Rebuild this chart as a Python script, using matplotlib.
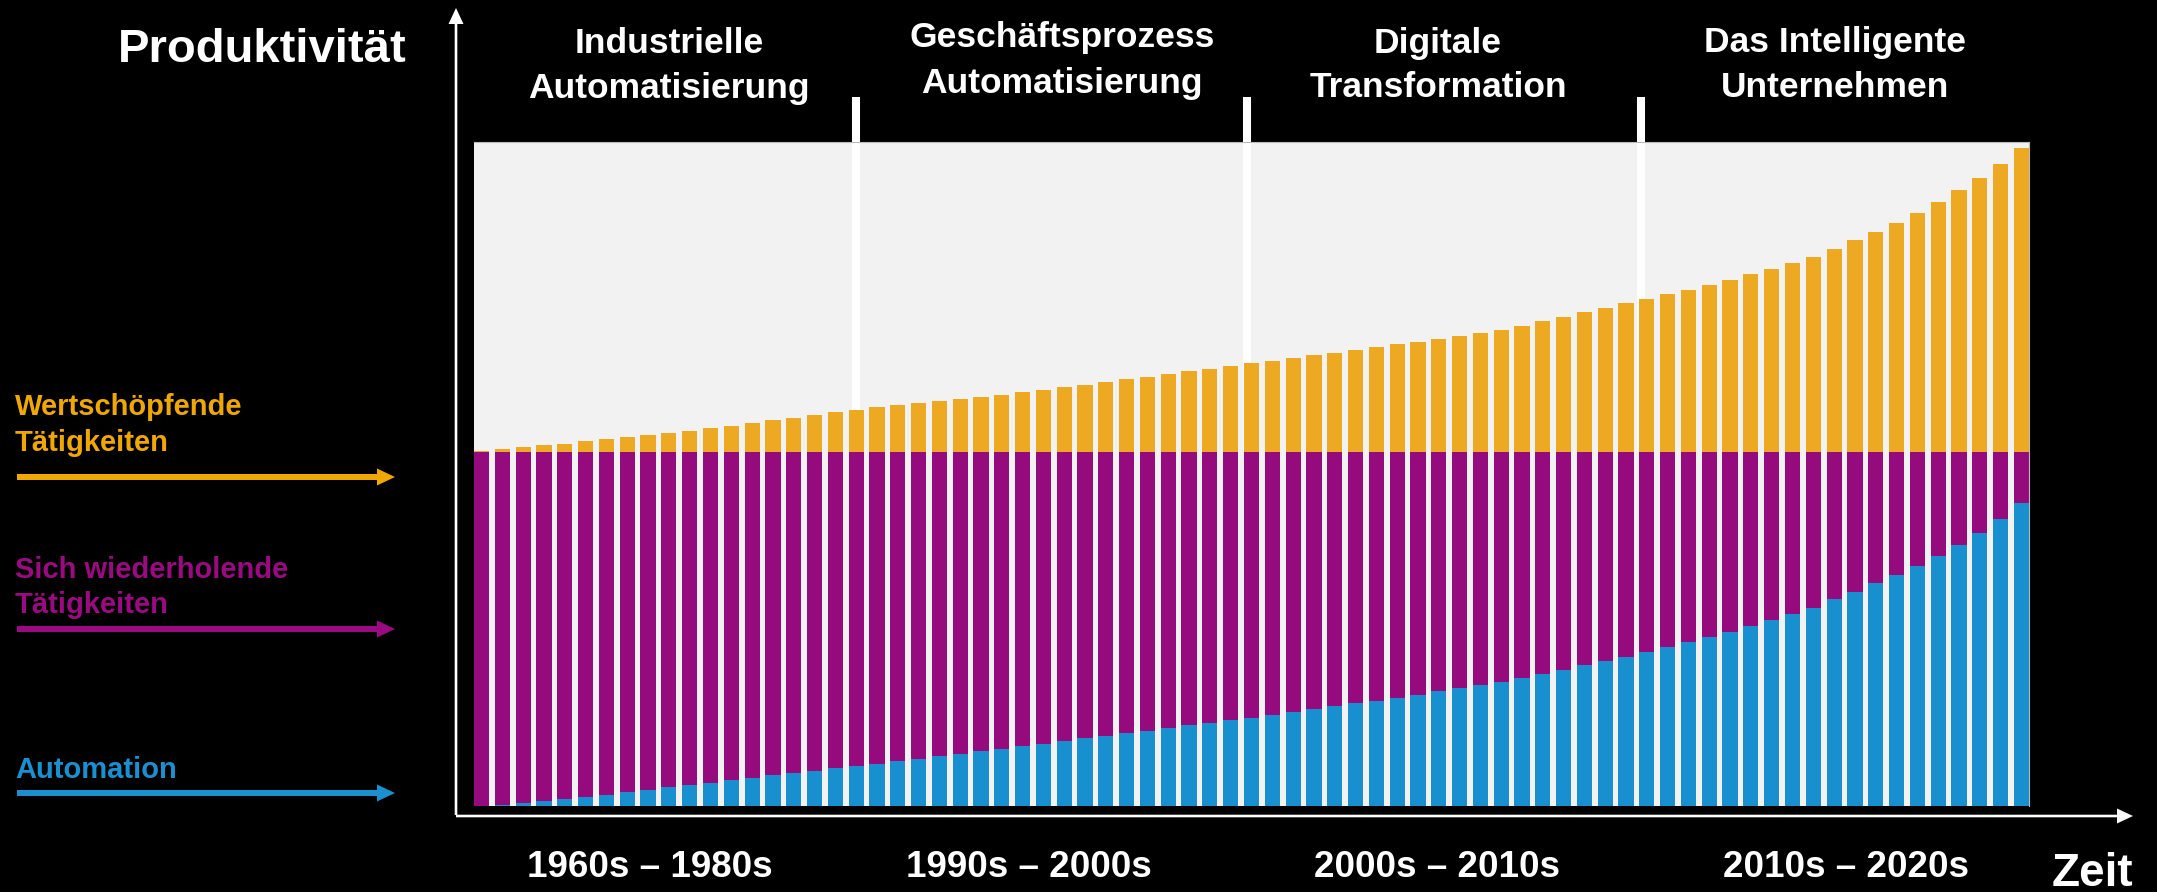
import matplotlib
matplotlib.use("Agg")
import matplotlib.pyplot as plt
from matplotlib.patches import FancyArrow
import numpy as np

# ---------------- data ----------------
automation = [0.0, 0.4, 0.9, 1.4, 2.0,
              2.6, 3.2, 3.9, 4.6, 5.3,
              5.9, 6.6, 7.3, 8.0, 8.7,
              9.3, 10.0, 10.6, 11.3, 12.0,
              12.7, 13.4, 14.1, 14.8, 15.5,
              16.2, 16.9, 17.6, 18.4, 19.1,
              19.8, 20.5, 21.3, 22.0, 22.8,
              23.5, 24.3, 25.0, 25.8, 26.6,
              27.4, 28.2, 29.0, 29.8, 30.6,
              31.5, 32.4, 33.3, 34.2, 35.1,
              36.2, 37.3, 38.5, 39.7, 41.0,
              42.2, 43.5, 44.9, 46.3, 47.7,
              49.2, 50.8, 52.5, 54.2, 56.0,
              58.5, 60.6, 62.9, 65.3, 67.9,
              70.7, 73.8, 77.2, 81.0, 85.5]
value_add = [0.3, 0.8, 1.3, 1.9, 2.4,
             3.0, 3.6, 4.2, 4.7, 5.3,
             6.0, 6.8, 7.5, 8.3, 9.0,
             9.7, 10.4, 11.2, 11.9, 12.6,
             13.2, 13.8, 14.4, 14.9, 15.5,
             16.2, 16.9, 17.6, 18.3, 19.0,
             19.8, 20.5, 21.3, 22.0, 22.8,
             23.6, 24.3, 25.1, 25.8, 26.6,
             27.4, 28.1, 28.9, 29.6, 30.4,
             31.2, 32.0, 32.9, 33.7, 34.5,
             35.7, 36.9, 38.2, 39.5, 40.8,
             42.0, 43.3, 44.6, 45.9, 47.2,
             48.7, 50.2, 51.8, 53.4, 55.1,
             57.5, 59.8, 62.2, 64.8, 67.6,
             70.6, 73.9, 77.5, 81.4, 85.8]
routine_level = 100.0
ceiling = 187.6

eras = ["Industrielle\nAutomatisierung", "Geschäftsprozess\nAutomatisierung",
        "Digitale\nTransformation", "Das Intelligente\nUnternehmen"]
decades = ["1960s – 1980s", "1990s – 2000s", "2000s – 2010s", "2010s – 2020s"]
legend_labels = ["Wertschöpfende\nTätigkeiten", "Sich wiederholende\nTätigkeiten", "Automation"]
y_label = "Produktivität"
x_label = "Zeit"

# ---------------- style ----------------
ORANGE = "#EDA922"
PURPLE = "#950B7E"
BLUE = "#1890CF"
GRAY = "#F2F2F2"
ORANGE_T = "#F0A800"
PURPLE_T = "#9A0A80"
BLUE_T = "#1A90D0"
FONT = ["Liberation Sans", "DejaVu Sans"]

W, H = 2157, 892
fig = plt.figure(figsize=(W / 100, H / 100), dpi=100, facecolor="black")

# overlay in pixel coordinates for annotations
ov = fig.add_axes([0, 0, 1, 1], zorder=0)
ov.set_xlim(0, W)
ov.set_ylim(H, 0)
ov.axis("off")

# main chart axes
L, R, T, B = 474, 2029, 142, 806
ax = fig.add_axes([L / W, (H - B) / H, (R - L) / W, (B - T) / H], zorder=1)
ax.set_facecolor(GRAY)
n = len(automation)
x = np.arange(n)
bw = 0.73
ax.bar(x, [routine_level] * n, width=bw, color=PURPLE, linewidth=0, zorder=2)
ax.bar(x, automation, width=bw, color=BLUE, linewidth=0, zorder=3)
ax.bar(x, value_add, bottom=routine_level, width=bw, color=ORANGE, linewidth=0, zorder=2)
ax.set_xlim(-bw / 2, n - 1 + bw / 2)
ax.set_ylim(0, ceiling)
ax.set_xticks([])
ax.set_yticks([])
for s in ["left", "bottom"]:
    ax.spines[s].set_visible(False)
for s in ["top", "right"]:
    ax.spines[s].set_color("#BBBBBB")
    ax.spines[s].set_linewidth(0.8)

# era dividers (white lines behind bars)
for xb in [18.0, 36.8, 55.7]:
    ax.plot([xb, xb], [routine_level, 200.3], color="white", lw=5.8,
            solid_capstyle="butt", clip_on=False, zorder=1.5)

# axes arrows
ov.add_patch(FancyArrow(456, 815, 0, -807, width=2.6, head_width=15, head_length=16,
                        length_includes_head=True, color="white", lw=0))
ov.add_patch(FancyArrow(456, 816, 1677, 0, width=2.6, head_width=15, head_length=16,
                        length_includes_head=True, color="white", lw=0))

# titles
ov.text(407, 62, y_label, ha="right", va="baseline", color="white",
        fontsize=34, fontweight="bold", family=FONT)
ov.text(2052, 886, x_label, ha="left", va="baseline", color="white",
        fontsize=33, fontweight="bold", family=FONT)

era_cx = [669, 1062, 1438, 1835]
era_base = [(53, 98), (47, 93), (53, 97), (52, 97)]
for txt, cx, (b1, b2) in zip(eras, era_cx, era_base):
    l1, l2 = txt.split("\n")
    ov.text(cx, b1, l1, ha="center", va="baseline", color="white",
            fontsize=25.5, fontweight="bold", family=FONT)
    ov.text(cx, b2, l2, ha="center", va="baseline", color="white",
            fontsize=25.5, fontweight="bold", family=FONT)

dec_cx = [650, 1029, 1437, 1846]
for txt, cx in zip(decades, dec_cx):
    ov.text(cx, 877, txt, ha="center", va="baseline", color="white",
            fontsize=26.5, fontweight="bold", family=FONT)

# left legend
leg_colors_t = [ORANGE_T, PURPLE_T, BLUE_T]
leg_bases = [(415, 451), (578, 613), (778,)]
leg_arrow_y = [477, 629, 793]
for lab, ct, bases, ay in zip(legend_labels, leg_colors_t, leg_bases, leg_arrow_y):
    for line, b in zip(lab.split("\n"), bases):
        ov.text(15, b, line, ha="left", va="baseline", color=ct,
                fontsize=21, fontweight="bold", family=FONT)
    ov.add_patch(FancyArrow(17, ay, 378, 0, width=6, head_width=17, head_length=18,
                            length_includes_head=True, color=ct, lw=0))

fig.savefig("out.png", dpi=100, facecolor="black")
